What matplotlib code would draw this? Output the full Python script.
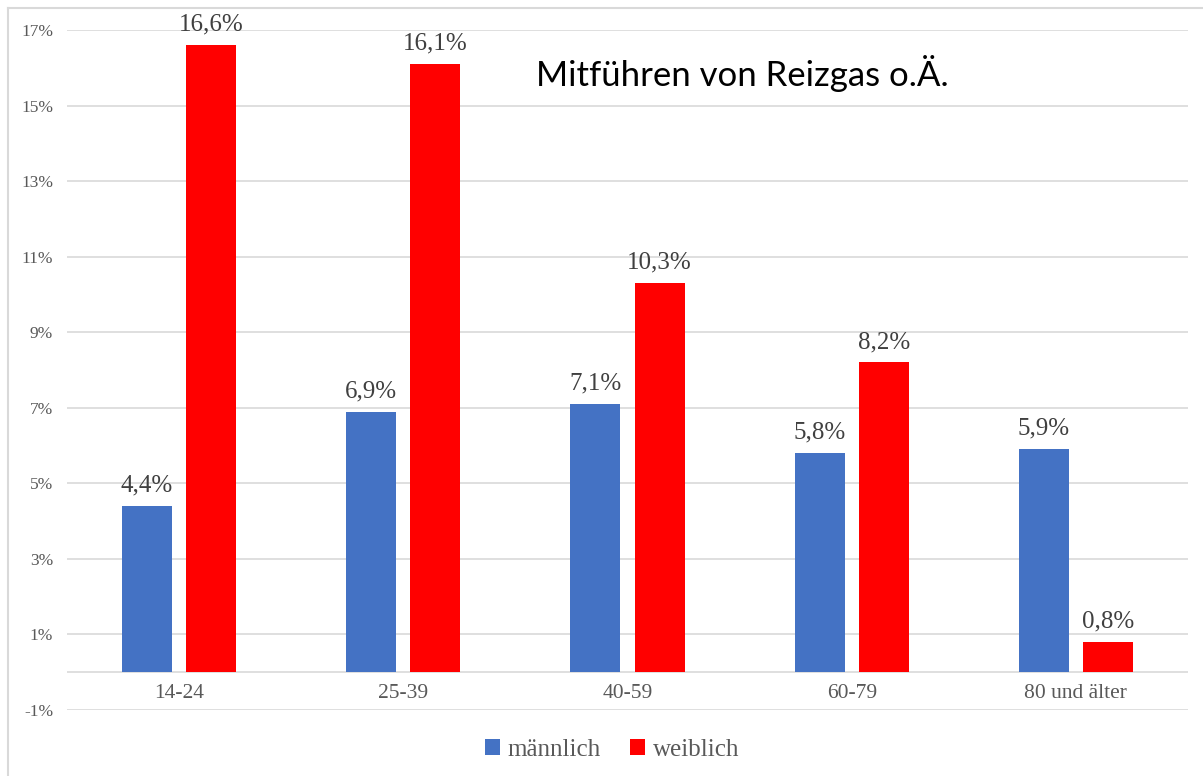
import matplotlib
matplotlib.use("Agg")
import matplotlib.pyplot as plt
from matplotlib.patches import Patch
from matplotlib.lines import Line2D

categories = ["14-24", "25-39", "40-59", "60-79", "80 und älter"]
maennlich = [4.4, 6.9, 7.1, 5.8, 5.9]
weiblich = [16.6, 16.1, 10.3, 8.2, 0.8]
series_names = ["männlich", "weiblich"]
yticks = [-1, 1, 3, 5, 7, 9, 11, 13, 15, 17]
title = "Mitführen von Reizgas o.Ä."

W, H = 1203, 776
blue = "#4472C4"
red = "#FF0000"
grid_c = "#D9D9D9"
serif = ["Liberation Serif", "DejaVu Serif"]

fig = plt.figure(figsize=(W / 100, H / 100), dpi=100)
ax = fig.add_axes([67 / W, 1 - 710 / H, (1188 - 67) / W, (710 - 30) / H])

x = list(range(len(categories)))
bw = 0.223
off = 0.143
ax.bar([i - off for i in x], maennlich, width=bw, color=blue, zorder=3)
ax.bar([i + off for i in x], weiblich, width=bw, color=red, zorder=3)

for i in x:
    for v, dx in ((maennlich[i], -off), (weiblich[i], off)):
        ax.text(i + dx, v + 0.25, f"{v:.1f}".replace(".", ",") + "%",
                ha="center", va="bottom", fontsize=18, color="#404040",
                family=serif)

ax.set_xlim(-0.5, len(categories) - 0.5)
ax.set_ylim(-1, 17)
ax.set_yticks(yticks)
ax.set_yticklabels([f"{t}%" for t in yticks], fontsize=12.5, color="#595959",
                   family=serif)
ax.yaxis.grid(True, color=grid_c, linewidth=1.2, zorder=0)
ax.axhline(0, color=grid_c, linewidth=1.2, zorder=1)
ax.set_xticks(x)
ax.set_xticklabels([])
for i, c in zip(x, categories):
    ax.text(i, -0.3, c, ha="center", va="top", fontsize=15.5, color="#595959",
            family=serif)
ax.tick_params(length=0, pad=10)
for s in ax.spines.values():
    s.set_visible(False)

fig.text(742 / W, 1 - 73 / H, title, ha="center", va="center", fontsize=25,
         family=["Lato", "DejaVu Sans"], color="black")

handles = [Patch(facecolor=blue), Patch(facecolor=red)]
fig.legend(handles, series_names, loc="center", bbox_to_anchor=(612 / W, 1 - 750 / H),
           ncol=2, frameon=False, handlelength=0.6, handleheight=0.6,
           handletextpad=0.3, columnspacing=1.2,
           prop={"family": serif, "size": 18}, labelcolor="#595959")

fig.add_artist(Line2D([8 / W, 1], [1 - 8 / H, 1 - 8 / H], color=grid_c, linewidth=1.5,
                      transform=fig.transFigure))
fig.add_artist(Line2D([8 / W, 8 / W], [0, 1 - 8 / H], color=grid_c, linewidth=1.5,
                      transform=fig.transFigure))

fig.savefig("out.png", dpi=100)
